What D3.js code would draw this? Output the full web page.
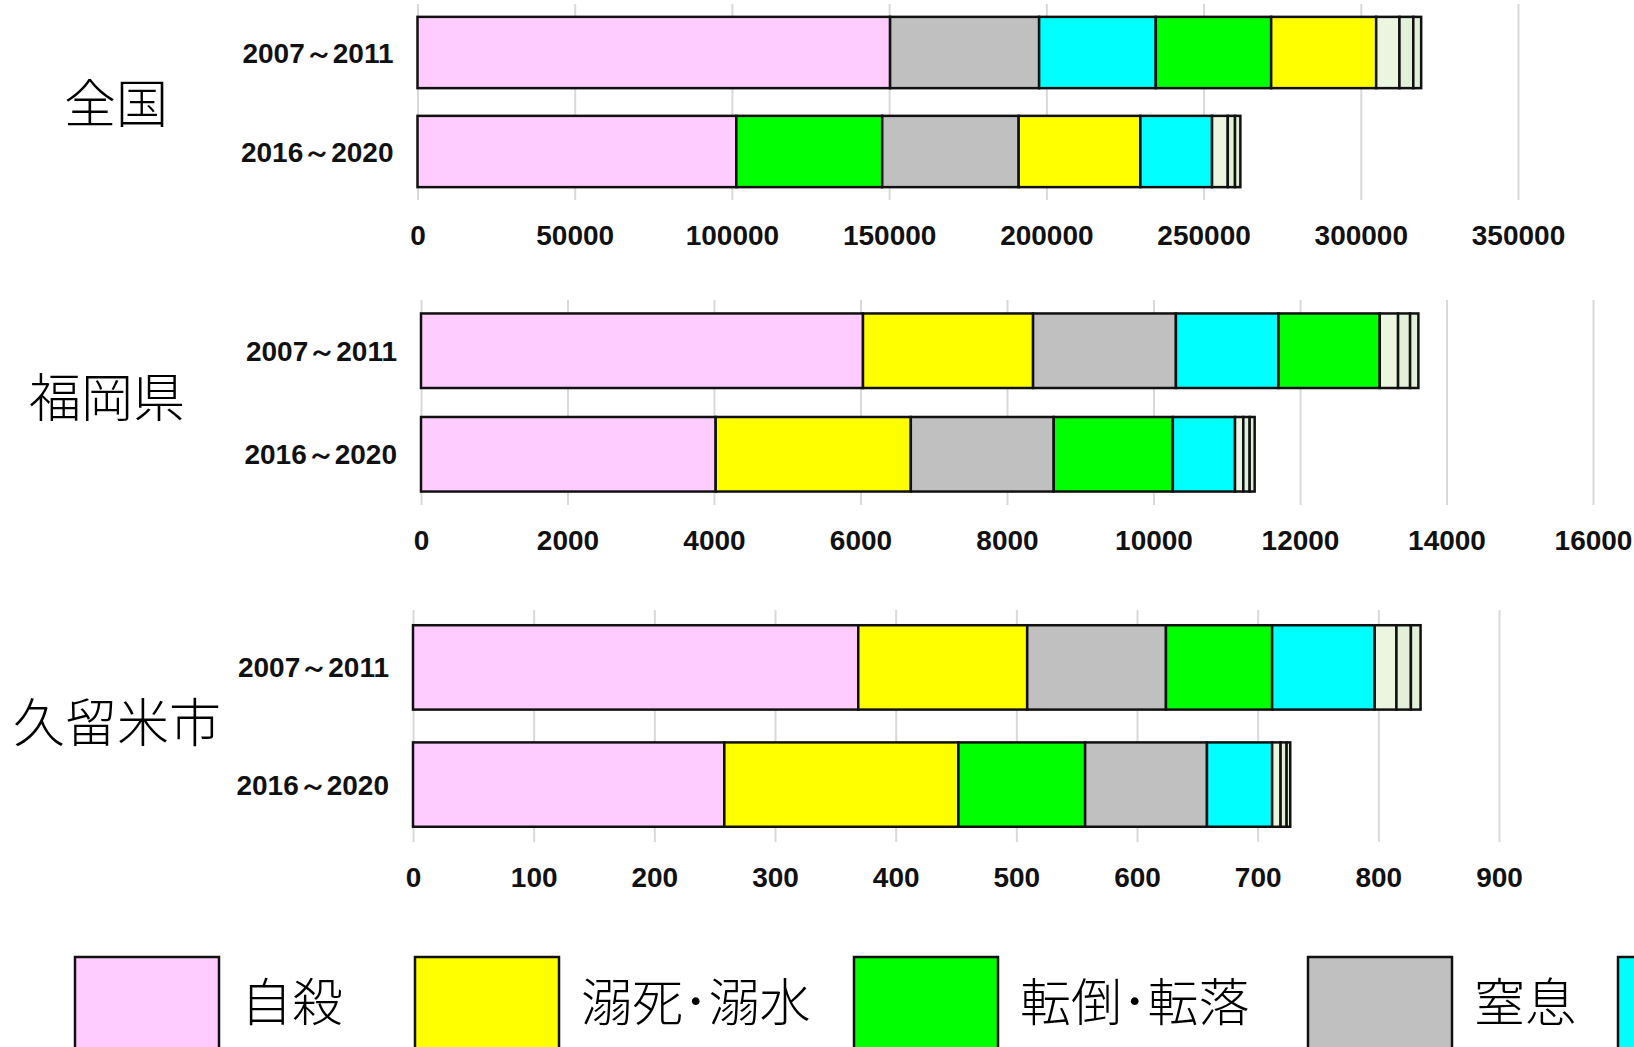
<!DOCTYPE html>
<meta charset="utf-8">
<style type="text/css">
body {
  margin: 0;
  background: #fff;
}

.region {
  font-family: "Noto Sans CJK JP", sans-serif;
  font-weight: 300;
  font-size: 52px;
}

.period {
  font-family: "Liberation Sans", sans-serif;
  font-weight: bold;
  font-size: 28px;
  fill: #111;
}

.axis text {
  font-family: "Liberation Sans", sans-serif;
  font-weight: bold;
  font-size: 28px;
  fill: #111;
}

.axis line {
  stroke: #d9d9d9;
  stroke-width: 2px;
}

.axis path {
  display: none;
}

.seg {
  stroke: #111;
  stroke-width: 2.5px;
}

.legend text {
  font-family: "Noto Sans CJK JP", sans-serif;
  font-weight: 300;
  font-size: 51px;
}
</style>
<body>
</body>

<script src="https://d3js.org/d3.v7.min.js"></script>
<script>
// categories and colours
var categories = ["自殺", "溺死･溺水", "転倒･転落", "窒息", "交通事故", "火災", "中毒", "他殺"];
var colors = ["#ffccff", "#ffff00", "#00ff00", "#c0c0c0", "#00ffff", "#ebf5df", "#e2f0d9", "#e2f0d9"];

var periods = ["2007～2011", "2016～2020"];
var regions = ["全国", "福岡県", "久留米市"];

// values, in category order
var zenkoku2007 = [150300, 33400, 36700, 47400, 37100, 7400, 4400, 2500];
var zenkoku2016 = [101400, 38700, 46400, 43400, 22800, 5000, 2300, 1700];
var fukuoka2007 = [6034, 2322, 1383, 1950, 1400, 250, 164, 113];
var fukuoka2016 = [4023, 2664, 1626, 1951, 849, 113, 87, 68];
var kurume2007 = [369, 140, 88, 115, 85, 18, 12, 8];
var kurume2016 = [258, 194, 105, 101, 54, 7, 5, 3];

// tick values
var ticksZenkoku = [0, 50000, 100000, 150000, 200000, 250000, 300000, 350000];
var ticksFukuoka = [0, 2000, 4000, 6000, 8000, 10000, 12000, 14000, 16000];
var ticksKurume = [0, 100, 200, 300, 400, 500, 600, 700, 800, 900];

var width = 1634;
var height = 1047;

var panels = [
  { name: regions[0], rows: [zenkoku2007, zenkoku2016], ticks: ticksZenkoku,
    x0: 417.5, x1: 1518, top: 4, bottom: 200, labelX: 116, labelY: 104 },
  { name: regions[1], rows: [fukuoka2007, fukuoka2016], ticks: ticksFukuoka,
    x0: 421, x1: 1593, top: 300, bottom: 505, labelX: 107, labelY: 398 },
  { name: regions[2], rows: [kurume2007, kurume2016], ticks: ticksKurume,
    x0: 413, x1: 1499, top: 610, bottom: 842, labelX: 117, labelY: 723 }
];

var svg = d3.select("body")
  .append("svg")
    .attr("width", width)
    .attr("height", height);

panels.forEach(function(p) {
  var x = d3.scaleLinear()
    .domain([0, p.ticks[p.ticks.length - 1]])
    .range([p.x0, p.x1]);

  var y = d3.scaleBand()
    .domain(periods)
    .range([p.top, p.bottom])
    .paddingInner(0.28)
    .paddingOuter(0.13);

  var xAxis = d3.axisBottom(x)
    .tickValues(p.ticks)
    .tickSize(-(p.bottom - p.top))
    .tickPadding(25)
    .tickFormat(function(d) { return d; });

  svg.append("g")
    .attr("class", "x axis")
    .attr("transform", "translate(0," + p.bottom + ")")
    .call(xAxis);

  periods.forEach(function(period, i) {
    // stack each bar, biggest segment first
    var items = p.rows[i].map(function(v, k) { return { k: k, v: v }; })
      .sort(function(a, b) { return b.v - a.v; });
    var acc = 0;
    items.forEach(function(d) { d.start = acc; acc += d.v; d.end = acc; });

    svg.append("g")
      .selectAll("rect")
      .data(items)
      .enter().append("rect")
        .attr("class", "seg")
        .attr("x", function(d) { return x(d.start); })
        .attr("width", function(d) { return x(d.end) - x(d.start); })
        .attr("y", y(period))
        .attr("height", y.bandwidth())
        .style("fill", function(d) { return colors[d.k]; });

    svg.append("text")
      .attr("class", "period")
      .attr("x", p.x0 - 24)
      .attr("y", y(period) + y.bandwidth() / 2)
      .attr("dy", "0.36em")
      .attr("text-anchor", "end")
      .text(period);
  });

  svg.append("text")
    .attr("class", "region")
    .attr("x", p.labelX)
    .attr("y", p.labelY)
    .attr("dy", "0.36em")
    .attr("text-anchor", "middle")
    .text(p.name);
});

// legend, runs off the right edge like the original
var legendX = [75, 415, 854, 1308, 1618];
var legend = svg.append("g").attr("class", "legend");

legendX.forEach(function(lx, i) {
  legend.append("rect")
    .attr("x", lx)
    .attr("y", 957)
    .attr("width", 144)
    .attr("height", 110)
    .attr("class", "seg")
    .style("fill", colors[i]);

  if (lx + 144 + 22 < width) {
    legend.append("text")
      .attr("x", lx + 144 + 22)
      .attr("y", 1003)
      .attr("dy", "0.36em")
      .text(categories[i]);
  }
});
</script>
